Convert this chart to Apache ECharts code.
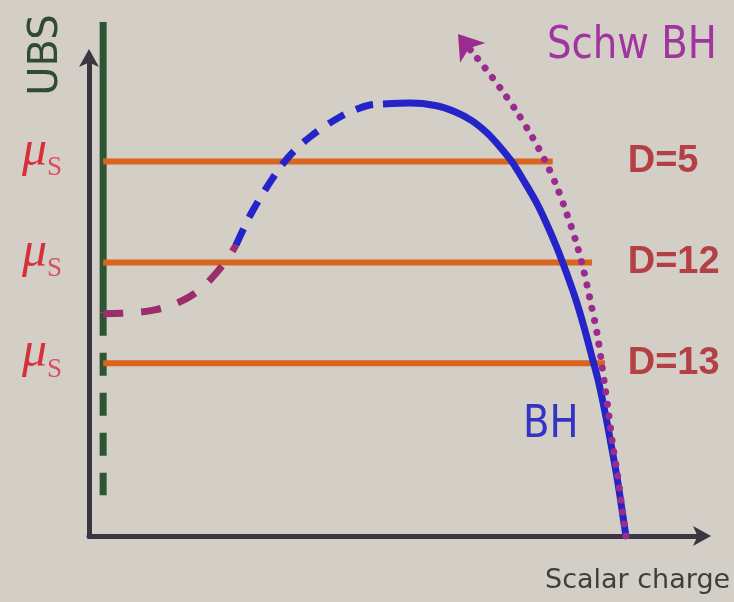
<!DOCTYPE html>
<html>
<head>
<meta charset="utf-8">
<script src="https://cdn.jsdelivr.net/npm/echarts@6/dist/echarts.min.js"></script>
<style>
  html, body { margin: 0; padding: 0; background: #d3cec6; }
  #chart { width: 734px; height: 602px; }
</style>
</head>
<body>
<div id="chart"></div>
<script>
// Frequency levels (mu_S) and the dimension each one belongs to
const levels = [7.8, 5.7, 3.6];
const dimensionLabels = ['D=5', 'D=12', 'D=13'];
const levelStart = 0.23;
const levelEnds = [7.54, 8.18, 8.39];

// Boson-star line sitting on the UBS axis
const bsSolid = [[0.23, 10.71], [0.23, 4.65]];
const bsDashed = [[0.23, 4.65], [0.23, 0.85]];

// Dashed low-charge branch leaving the boson-star line
const lowBranch = [
  [0.23, 4.63], [0.67, 4.65], [1.07, 4.71], [1.48, 4.88],
  [1.80, 5.13], [2.07, 5.48], [2.26, 5.79], [2.39, 6.06]
];

// Black-hole family: dashed rise, then solid fall to the charge axis
const bhDashed = [
  [2.39, 6.06], [2.52, 6.42], [2.65, 6.75], [2.81, 7.10], [2.98, 7.44],
  [3.15, 7.75], [3.35, 8.04], [3.59, 8.31], [3.84, 8.54], [4.08, 8.73],
  [4.33, 8.88], [4.57, 8.98], [4.78, 9.00]
];
const bhSolid = [
  [4.78, 9.00], [5.22, 9.02], [5.63, 8.97], [5.95, 8.84], [6.23, 8.65],
  [6.47, 8.40], [6.68, 8.11], [6.88, 7.79], [7.07, 7.40], [7.27, 6.96],
  [7.45, 6.48], [7.61, 6.00], [7.77, 5.46], [7.92, 4.91], [8.05, 4.35],
  [8.16, 3.82], [8.28, 3.24], [8.39, 2.58], [8.50, 1.83], [8.60, 1.11],
  [8.68, 0.43], [8.73, 0.00]
];

// Schwarzschild direction (dotted, ends in an arrow)
const schwPath = [
  [8.73, 0.00], [8.66, 0.65], [8.59, 1.31], [8.51, 1.94], [8.45, 2.54],
  [8.39, 3.10], [8.33, 3.65], [8.26, 4.23], [8.16, 4.85], [8.05, 5.50],
  [7.92, 6.13], [7.77, 6.71], [7.61, 7.27], [7.42, 7.81], [7.20, 8.33],
  [6.96, 8.83], [6.70, 9.31], [6.44, 9.75], [6.20, 10.13], [6.00, 10.46]
];

// Column where the dimension labels start
const dimensionLabelX = 8.76;

const C = {
  axis: '#3a3540',
  green: '#2e5533',
  orange: '#d9651e',
  blue: '#2424c8',
  lowBranch: '#9b2d6c',
  schw: '#992c8e'
};

function lineSeries(data, color, width, type, extra) {
  return Object.assign({
    type: 'line',
    data: data,
    showSymbol: false,
    symbol: 'none',
    clip: false,
    silent: true,
    lineStyle: { color: color, width: width, type: type || 'solid' }
  }, extra || {});
}

const dotted = [0.1, 12];

const series = [];
series.push(lineSeries(bsSolid, C.green, 7, 'solid', { z: 2 }));
series.push(lineSeries(bsDashed, C.green, 7, [23, 17], { z: 2 }));
levels.forEach(function (lv, i) {
  series.push(lineSeries([[levelStart, lv], [levelEnds[i], lv]], C.orange, 6, 'solid', { z: 3 }));
});
series.push(lineSeries(lowBranch, C.lowBranch, 7, [20, 18], { smooth: 0.4, z: 4 }));
series.push(lineSeries(bhDashed, C.blue, 7, [18, 13], { smooth: 0.4, z: 4 }));
series.push(lineSeries(bhSolid, C.blue, 7, 'solid', { smooth: 0.3, z: 4 }));
series.push(lineSeries(schwPath.slice(0, -1), C.schw, 7, dotted, { smooth: 0.3, z: 5 }));
series[series.length - 1].lineStyle.cap = 'round';

// Arrow head at the end of the dotted path
series.push({
  type: 'lines',
  coordinateSystem: 'cartesian2d',
  clip: false,
  silent: true,
  z: 6,
  symbol: ['none', 'arrow'],
  symbolSize: 24,
  lineStyle: { color: C.schw, width: 7, type: dotted, cap: 'round', opacity: 1, curveness: 0 },
  data: [{ coords: schwPath.slice(-2) }]
});

// Dimension labels on the right
series.push({
  type: 'scatter',
  symbolSize: 0,
  silent: true,
  clip: false,
  z: 7,
  data: levels.map(function (lv) { return [dimensionLabelX, lv]; }),
  label: {
    show: true,
    position: 'right',
    distance: 0,
    formatter: function (p) { return dimensionLabels[p.dataIndex]; },
    color: '#ad1d24',
    fontFamily: '"Liberation Sans", Arial, sans-serif',
    fontWeight: 'bold',
    fontSize: 38
  }
});

const arrowAxisLine = {
  show: true,
  symbol: ['none', 'arrow'],
  symbolSize: [15, 18],
  symbolOffset: [0, 7],
  lineStyle: { color: C.axis, width: 5 }
};

const chart = echarts.init(document.getElementById('chart'), null, { renderer: 'canvas' });
chart.setOption({
  animation: false,
  backgroundColor: '#d3cec6',
  grid: {
    left: 89, right: 30, top: 56, bottom: 66,
    containLabel: false,
    outerBoundsMode: 'none'
  },
  xAxis: {
    type: 'value',
    min: 0, max: 10,
    axisLine: arrowAxisLine,
    axisTick: { show: false },
    axisLabel: { show: false },
    splitLine: { show: false }
  },
  yAxis: {
    type: 'value',
    min: 0, max: 10,
    axisLine: arrowAxisLine,
    axisTick: { show: false },
    splitLine: { show: false },
    axisLabel: {
      show: true,
      customValues: levels,
      margin: 27,
      padding: [0, 0, 20, 0],
      formatter: function () { return '{mu|μ}{s|S}'; },
      rich: {
        mu: {
          fontFamily: '"Liberation Serif", "DejaVu Serif", serif',
          fontStyle: 'italic',
          fontSize: 50,
          lineHeight: 60,
          color: '#d8303a',
          verticalAlign: 'middle'
        },
        s: {
          fontFamily: '"Liberation Serif", "DejaVu Serif", serif',
          fontSize: 27,
          lineHeight: 16,
          color: '#db4d60',
          verticalAlign: 'bottom'
        }
      }
    }
  },
  graphic: [
    {
      type: 'text', x: 47, y: 55, rotation: Math.PI / 2, silent: true,
      style: { text: 'UBS', fill: '#2f4b34', font: '40px "DejaVu Sans", sans-serif', align: 'center', verticalAlign: 'middle' }
    },
    {
      type: 'text', x: 547, y: 46, scaleX: 0.86, silent: true,
      style: { text: 'Schw BH', fill: '#a0359e', font: '45px "DejaVu Sans", sans-serif', align: 'left', verticalAlign: 'middle' }
    },
    {
      type: 'text', x: 523, y: 425, scaleX: 0.86, silent: true,
      style: { text: 'BH', fill: '#3434c4', font: '45px "DejaVu Sans", sans-serif', align: 'left', verticalAlign: 'middle' }
    },
    {
      type: 'text', x: 545, y: 581, silent: true,
      style: { text: 'Scalar charge', fill: '#3e3e3e', font: '27px "DejaVu Sans", sans-serif', align: 'left', verticalAlign: 'middle' }
    }
  ],
  series: series
});
</script>
</body>
</html>
